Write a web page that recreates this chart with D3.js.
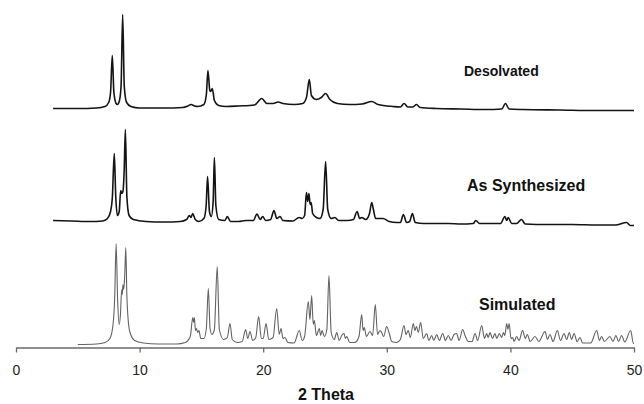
<!DOCTYPE html>
<html>
<head>
<meta charset="utf-8">
<script src="https://cdn.jsdelivr.net/npm/d3@7"></script>
<style>
  html, body { margin: 0; padding: 0; background: #fff; }
  svg { display: block; }
</style>
</head>
<body>
<svg id="chart" width="644" height="404"></svg>
<script>
// ---------- DATA ----------
// x: 2-theta (degrees); y: intensity in arbitrary units above each pattern's own baseline
const xTicks = [0, 10, 20, 30, 40, 50];
const seriesNames = ["Desolvated", "As Synthesized", "Simulated"];
const seriesOffsets = [239, 126, 3];   // vertical stacking offset in intensity units

const desolvated = [
  [3.0,0],[5.0,0],[6.5,0.5],[7.2,2],[7.5,6],[7.65,16],[7.79,53],[7.92,16],[8.1,5],[8.2,4],
  [8.35,7],[8.5,22],[8.63,94],[8.76,22],[8.95,6],[9.3,2],[10,0.5],[12,0.5],[13.5,1],[13.9,2.5],
  [14.16,4],[14.45,2.5],[14.7,2],[15.2,4],[15.4,14],[15.53,38],[15.68,18],[15.75,17],[15.88,20],
  [16.05,8],[16.4,3],[17,2],[18,2.5],[19.3,3.5],[19.88,10],[20.3,5],[20.8,5],[21.2,6.5],[21.6,5],
  [22.5,4],[23.2,5],[23.5,11],[23.73,29],[23.9,13],[24.3,9],[24.7,11],[25.05,15],[25.4,9],[26,5],
  [27,4],[28,4.5],[28.78,7],[29.3,4],[30.5,2],[31.1,1.5],[31.4,5],[31.7,1.5],[32.1,1.5],[32.4,4],
  [32.7,1],[34,0],[36,-0.5],[38,-1],[39.3,-0.5],[39.6,5],[39.9,-0.5],[41,-1],[44,-1.5],[47,-2],[50,-2]
];

const asSynthesized = [
  [3.0,1],[4.5,0.5],[6,0],[7.0,0.5],[7.4,3],[7.65,10],[7.8,25],[7.95,68],[8.07,25],[8.2,6],
  [8.35,10],[8.47,31],[8.55,28],[8.65,30],[8.75,50],[8.85,92],[8.97,25],[9.15,6],[9.5,2],[10.5,0],
  [12,-0.5],[13.3,0],[13.8,2],[14.03,6],[14.15,4],[14.3,8],[14.5,2],[14.8,0],[15.2,3],[15.38,15],
  [15.5,45],[15.65,10],[15.8,5],[15.95,20],[16.05,64],[16.17,16],[16.4,2],[16.9,1],[17.1,5],[17.35,0],
  [18,0],[18.6,1],[19.2,1],[19.5,7.5],[19.75,2],[19.96,5],[20.2,1],[20.6,2],[20.87,11],[21.1,3],
  [21.36,5],[21.6,1],[22.4,0.5],[22.9,4],[23.15,3],[23.35,6],[23.5,29],[23.6,20],[23.7,28],[23.8,17],
  [23.88,19],[24.0,8],[24.3,4],[24.6,3],[24.85,12],[25.05,60],[25.22,12],[25.5,3],[25.8,4],[26.1,1],
  [26.8,1],[27.3,2],[27.6,10],[27.8,3],[27.97,4],[28.3,2],[28.6,8],[28.78,19],[28.9,13],[29.1,3],
  [29.7,3],[30.2,0],[30.8,-1],[31.1,-1],[31.34,7],[31.6,-1],[31.85,0],[32.07,8],[32.3,-1],[33,-2],
  [34,-2],[35,-2],[36,-2.5],[37,-2],[37.2,1],[37.5,-2],[38.5,-2],[39.2,-2],[39.56,5],[39.7,1],
  [39.83,4],[40.1,-2],[40.5,-2],[40.9,2],[41.2,-2.5],[43,-3],[45,-3],[47,-3.5],[48.5,-3.5],[49.4,-1],
  [49.7,-4],[50,-4]
];

const simulated = [
  [5,0],[6.5,0.5],[7.2,2],[7.6,6],[7.85,20],[7.98,45],[8.1,101],[8.22,45],[8.35,20],[8.45,30],
  [8.55,55],[8.6,50],[8.65,60],[8.72,55],[8.8,70],[8.88,97],[8.98,45],[9.2,13],[9.6,4],[10.3,1.5],
  [11.5,0.5],[13,0.5],[13.7,2],[14.1,8],[14.3,27],[14.37,22],[14.43,27],[14.52,14],[14.6,16],[14.7,12],
  [14.8,14],[14.95,6],[15.2,6],[15.4,16],[15.56,56],[15.7,16],[15.85,10],[16.05,15],[16.28,78],[16.45,15],
  [16.8,5],[17.1,7],[17.31,21],[17.5,5],[17.9,2],[18.3,3],[18.58,15],[18.75,6],[18.93,13],[19.15,4],
  [19.4,7],[19.63,28],[19.85,6],[20.0,6],[20.23,21],[20.45,5],[20.8,7],[21.09,36],[21.3,10],[21.44,16],
  [21.6,6],[21.76,7],[22.0,2],[22.5,1.5],[22.92,14],[23.15,4],[23.35,8],[23.65,43],[23.78,25],[23.92,49],
  [24.05,20],[24.14,24],[24.3,9],[24.54,16],[24.65,9],[24.76,14],[24.95,8],[25.15,15],[25.32,69],[25.5,12],
  [25.75,5],[25.95,12],[26.15,4],[26.35,9],[26.54,11],[26.65,6],[26.76,8],[27.0,2],[27.4,2],[27.75,8],
  [27.97,30],[28.08,14],[28.18,17],[28.35,8],[28.64,13],[28.85,9],[29.07,40],[29.25,10],[29.45,14],[29.58,12],
  [29.75,8],[29.99,18],[30.2,11],[30.4,3],[30.8,2],[31.1,5],[31.39,19],[31.55,10],[31.74,14],[31.9,7],
  [32.15,21],[32.27,14],[32.4,18],[32.55,12],[32.74,22],[32.95,6],[33.23,11],[33.4,4],[33.63,9],[33.8,4],
  [34.04,10],[34.25,4],[34.52,11],[34.75,4],[34.97,9],[35.2,4],[35.44,10],[35.65,11],[35.85,4],[36.14,15],
  [36.33,9],[36.6,3],[36.9,3],[37.14,11],[37.35,4],[37.68,19],[37.9,6],[38.08,11],[38.2,7],[38.35,12],
  [38.55,6],[38.75,11],[38.9,6],[39.1,11],[39.3,7],[39.43,12],[39.55,9],[39.7,21],[39.8,15],[39.9,21],
  [40.05,6],[40.18,7],[40.3,3],[40.5,8],[40.7,4],[40.99,14],[41.2,6],[41.37,10],[41.6,3],[41.99,8],
  [42.3,3],[42.8,13],[43.0,5],[43.2,10],[43.45,3],[43.8,14],[44.05,4],[44.34,11],[44.55,5],[44.77,12],
  [44.95,5],[45.15,11],[45.4,3],[45.63,7],[45.85,1.5],[46.5,1.5],[46.98,14],[47.2,4],[47.38,8],[47.6,3],
  [48.05,8],[48.3,3],[48.54,9],[48.75,3],[49.0,9],[49.25,2.5],[49.73,14],[49.95,1],[50,1]
];

const seriesData = [desolvated, asSynthesized, simulated];
const xTitle = "2 Theta";

// ---------- LAYOUT / STYLE ----------
const svg = d3.select("#chart");
const x = d3.scaleLinear().domain([0, 50]).range([16, 634]);
const y = d3.scaleLinear().domain([0, 345]).range([347.5, 2.5]);

const styles = [
  { stroke: "#141414", width: 1.6 },
  { stroke: "#141414", width: 1.6 },
  { stroke: "#626262", width: 1.1 }
];
const labelStyle = [
  { x: 464, y: 76, size: 14 },
  { x: 467, y: 191, size: 16 },
  { x: 479, y: 310, size: 16 }
];

// traces
seriesData.forEach((d, i) => {
  const off = seriesOffsets[i];
  const line = d3.line()
    .x(p => x(p[0]))
    .y(p => y(p[1] + off))
    .curve(d3.curveMonotoneX);
  svg.append("path")
    .datum(d)
    .attr("fill", "none")
    .attr("stroke", styles[i].stroke)
    .attr("stroke-width", styles[i].width)
    .attr("stroke-linejoin", "round")
    .attr("d", line);
});

// labels
seriesNames.forEach((name, i) => {
  svg.append("text")
    .attr("x", labelStyle[i].x)
    .attr("y", labelStyle[i].y)
    .attr("font-family", "Liberation Sans, Arial, sans-serif")
    .attr("font-weight", "bold")
    .attr("font-size", labelStyle[i].size)
    .attr("fill", "#111")
    .text(name);
});

// x axis
const axis = d3.axisBottom(x)
  .tickValues(xTicks)
  .tickFormat(d3.format("d"))
  .tickSize(5)
  .tickSizeOuter(0)
  .tickPadding(13);
const gAxis = svg.append("g")
  .attr("transform", `translate(0,${y(0)})`)
  .call(axis);
gAxis.select(".domain").attr("stroke", "#6a6a6a").attr("stroke-width", 1.3);
gAxis.selectAll(".tick line").attr("stroke", "#6a6a6a").attr("stroke-width", 1.3);
gAxis.selectAll(".tick text")
  .attr("font-family", "Liberation Sans, Arial, sans-serif")
  .attr("font-size", 14)
  .attr("fill", "#222");

// axis title
svg.append("text")
  .attr("x", 326)
  .attr("y", 400)
  .attr("text-anchor", "middle")
  .attr("font-family", "Liberation Sans, Arial, sans-serif")
  .attr("font-weight", "bold")
  .attr("font-size", 16)
  .attr("fill", "#111")
  .text(xTitle);
</script>
</body>
</html>
